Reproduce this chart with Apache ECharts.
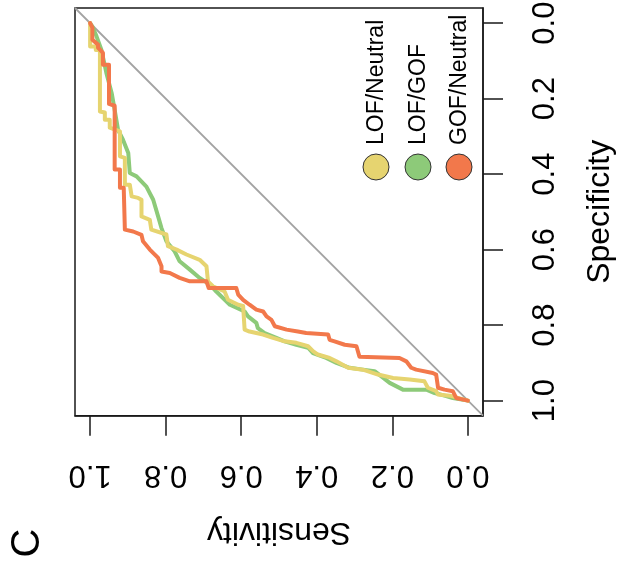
<!DOCTYPE html>
<html>
<head>
<meta charset="utf-8">
<script src="https://cdn.jsdelivr.net/npm/echarts@6/dist/echarts.min.js"></script>
<style>
  html, body { margin: 0; padding: 0; background: #ffffff; }
  #chart { width: 620px; height: 571px; }
</style>
</head>
<body>
<div id="chart"></div>
<script>
// Axis tick positions shared by both axes
const tickValues = [0, 0.2, 0.4, 0.6, 0.8, 1.0];

// Series names and colours
const seriesNames = ['LOF/Neutral', 'LOF/GOF', 'GOF/Neutral'];
const seriesColors = ['#E6D470', '#8DCA79', '#F2784B'];

// LOF/Neutral ROC curve (sensitivity, specificity)
const lofNeutralSens = [1.000,1.000,0.985,0.985,0.974,0.974,0.961,0.961,0.948,0.948,
  0.921,0.921,0.908,0.908,0.895,0.890,0.873,0.864,0.864,0.842,
  0.838,0.798,0.794,0.771,0.745,0.710,0.692,0.688,0.675,0.644,
  0.635,0.608,0.595,0.591,0.578,0.542,0.516,0.485,0.454,0.423,
  0.410,0.397,0.366,0.348,0.317,0.278,0.238,0.198,0.154,0.115,
  0.106,0.084,0.079,0.048,0.000];
const lofNeutralSpec = [0.000,0.062,0.062,0.071,0.071,0.234,0.237,0.256,0.256,0.277,
  0.287,0.353,0.357,0.428,0.428,0.459,0.463,0.468,0.512,0.521,
  0.547,0.560,0.591,0.600,0.613,0.627,0.644,0.684,0.697,0.711,
  0.733,0.746,0.749,0.812,0.817,0.825,0.834,0.843,0.847,0.856,
  0.869,0.878,0.887,0.896,0.913,0.918,0.931,0.940,0.944,0.949,
  0.966,0.975,0.984,0.987,1.000];

// LOF/GOF ROC curve
const lofGofSens = [1.000,0.994,0.983,0.970,0.957,0.943,0.935,0.926,0.913,0.899,
  0.895,0.877,0.851,0.833,0.820,0.811,0.798,0.776,0.763,0.736,
  0.710,0.683,0.666,0.630,0.591,0.582,0.560,0.556,0.538,0.507,
  0.485,0.454,0.423,0.410,0.375,0.348,0.313,0.278,0.247,0.229,
  0.207,0.172,0.110,0.088,0.062,0.040,0.000];
const lofGofSpec = [0.000,0.009,0.035,0.071,0.132,0.185,0.230,0.283,0.309,0.344,
  0.397,0.406,0.433,0.468,0.512,0.543,0.578,0.605,0.631,0.653,
  0.675,0.693,0.711,0.746,0.764,0.777,0.794,0.808,0.821,0.834,
  0.843,0.852,0.860,0.874,0.887,0.900,0.913,0.918,0.922,0.936,
  0.953,0.971,0.971,0.980,0.987,0.993,1.000];

// GOF/Neutral ROC curve
const gofNeutralSens = [1.000,0.994,0.994,0.979,0.979,0.966,0.966,0.950,0.950,0.935,
  0.935,0.921,0.921,0.911,0.908,0.886,0.864,0.860,0.842,0.820,
  0.811,0.811,0.789,0.763,0.736,0.692,0.686,0.613,0.608,0.595,
  0.578,0.560,0.542,0.533,0.520,0.511,0.480,0.450,0.428,0.370,
  0.366,0.353,0.326,0.295,0.287,0.181,0.163,0.150,0.137,0.093,
  0.084,0.079,0.062,0.040,0.031,0.000];
const gofNeutralSpec = [0.000,0.012,0.044,0.057,0.065,0.079,0.110,0.110,0.214,0.219,
  0.388,0.388,0.436,0.436,0.547,0.552,0.561,0.578,0.600,0.622,
  0.644,0.658,0.662,0.675,0.684,0.684,0.702,0.702,0.719,0.733,
  0.746,0.759,0.764,0.777,0.786,0.803,0.812,0.817,0.821,0.825,
  0.839,0.843,0.852,0.856,0.884,0.887,0.896,0.913,0.918,0.927,
  0.931,0.966,0.971,0.975,0.993,1.000];

// Chance line across the whole plotting region
const chanceSens = [1.04, -0.04];
const chanceSpec = [-0.04, 1.04];

const FONT = '"Liberation Sans", Arial, Helvetica, sans-serif';
const zip = (a, b) => a.map((v, i) => [v, b[i]]);

const chart = echarts.init(document.getElementById('chart'), null, { renderer: 'canvas' });

const axisCommon = {
  type: 'value',
  min: -0.04,
  max: 1.04,
  inverse: true,
  splitLine: { show: false },
  axisLine: { show: true, onZero: false, lineStyle: { color: '#1a1a1a', width: 1.5 } },
  axisTick: { show: true, inside: false, length: 20, customValues: tickValues,
              lineStyle: { color: '#1a1a1a', width: 1.5 } },
  nameLocation: 'middle',
  nameTextStyle: { fontFamily: FONT, fontSize: 32, color: '#000' }
};

const curveStyle = (color) => ({ color: color, width: 4, cap: 'round', join: 'round' });

chart.setOption({
  animation: false,
  backgroundColor: '#ffffff',
  grid: {
    left: 75, right: 137, top: 8, bottom: 155.3,
    outerBoundsMode: 'none',
    containLabel: false,
    show: true, borderColor: '#1a1a1a', borderWidth: 1.5, backgroundColor: 'transparent'
  },
  xAxis: Object.assign({}, axisCommon, {
    position: 'bottom',
    name: 'Sensitivity',
    nameRotate: 180,
    nameGap: 100,
    axisLabel: { customValues: tickValues, rotate: 180, margin: 43,
                 formatter: v => v.toFixed(1), fontFamily: FONT, fontSize: 31, color: '#000' }
  }),
  yAxis: Object.assign({}, axisCommon, {
    position: 'right',
    name: 'Specificity',
    nameRotate: 90,
    nameGap: 101,
    axisLabel: { customValues: tickValues, rotate: 90, margin: 47,
                 formatter: v => v.toFixed(1), fontFamily: FONT, fontSize: 31, color: '#000' }
  }),
  series: [
    { type: 'line', name: 'chance', data: zip(chanceSens, chanceSpec), symbol: 'none',
      lineStyle: { color: '#A3A3A3', width: 1.8 }, z: 1, silent: true },
    { type: 'line', name: seriesNames[1], data: zip(lofGofSens, lofGofSpec), symbol: 'none',
      lineStyle: curveStyle(seriesColors[1]), z: 2 },
    { type: 'line', name: seriesNames[0], data: zip(lofNeutralSens, lofNeutralSpec), symbol: 'none',
      lineStyle: curveStyle(seriesColors[0]), z: 3 },
    { type: 'line', name: seriesNames[2], data: zip(gofNeutralSens, gofNeutralSpec), symbol: 'none',
      lineStyle: curveStyle(seriesColors[2]), z: 4 }
  ],
  graphic: [
    { type: 'text', x: 28, y: 543, rotation: Math.PI / 2,
      style: { text: 'C', fontFamily: FONT, fontSize: 40, fill: '#000', align: 'center', verticalAlign: 'middle' } },
    // legend: a filled marker with its rotated label for each curve
    ...seriesNames.map((name, i) => ({
      type: 'group',
      x: [376, 418, 459][i],
      y: 167,
      children: [
        { type: 'circle', shape: { cx: 0, cy: 0, r: 13 },
          style: { fill: seriesColors[i], stroke: '#333', lineWidth: 1 } },
        { type: 'text', x: 1, y: -22, rotation: Math.PI / 2,
          style: { text: name, fontFamily: FONT, fontSize: 23, fill: '#000', align: 'left', verticalAlign: 'middle' } }
      ]
    }))
  ]
});
</script>
</body>
</html>
